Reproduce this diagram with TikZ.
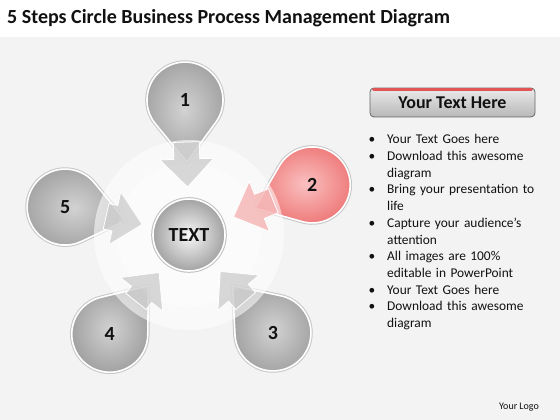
\documentclass[tikz,border=0pt]{standalone}
\usepackage{fontspec}
\setmainfont{Carlito}
\usetikzlibrary{calc}
\definecolor{bg}{HTML}{F3F3F3}
\definecolor{ink}{HTML}{111111}
\definecolor{dropdark}{HTML}{A2A2A2}
\definecolor{droplight}{HTML}{D2D2D2}
\definecolor{reddark}{HTML}{EE7676}
\definecolor{redlight}{HTML}{FAC0C0}
\definecolor{arrowgray}{HTML}{C8C8C8}
\definecolor{arrowred}{HTML}{F5AEAE}
\definecolor{barred}{HTML}{E05555}
\tikzset{
  drop/.style={draw=white, line width=1.6pt, inner color=droplight, outer color=dropdark,
    preaction={draw=black!22, line width=3.6pt}},
  dropred/.style={draw=white, line width=1.6pt, inner color=redlight, outer color=reddark,
    preaction={draw=black!22, line width=3.6pt}},
  ring/.style={fill=white, fill opacity=0.55},
  arrowg/.style={fill=arrowgray, fill opacity=0.7, draw=white, line width=0.8pt},
  arrowr/.style={fill=arrowred, fill opacity=0.75, draw=white, line width=0.8pt},
  num/.style={text=ink, font=\bfseries\fontsize{20}{20}\selectfont},
  hubnode/.style={circle, minimum size=72pt, inner sep=0pt, draw=white, line width=1.6pt,
    inner color=black!3, outer color=black!36, preaction={draw=black!25, line width=3.6pt},
    text=ink, font=\bfseries\fontsize{20}{20}\selectfont},
  headbox/.style={rounded corners=4pt, minimum width=165pt, minimum height=29pt, draw=black!60,
    line width=0.8pt, top color=black!8, bottom color=black!28, text=ink,
    font=\bfseries\fontsize{18}{18}\selectfont},
  bullets/.style={anchor=north west, inner sep=0pt, text width=175pt, text=ink,
    font=\fontsize{13.4}{16.7}\selectfont},
}

\begin{document}
\begin{tikzpicture}[x=1pt, y=1pt]
  \useasboundingbox (0,0) rectangle (560,420);
  \fill[white] (0,0) rectangle (560,420);
  \fill[bg] (0,0) rectangle (560,383);

  \node[anchor=base west, text=ink, inner sep=0pt, font=\bfseries\fontsize{20}{20}\selectfont]
    (title) at (7,396.5) {5 Steps Circle Business Process Management Diagram};

  \coordinate (c) at (189,185);

  % drops, angle and distance measured from the hub
  \foreach \n/\ang/\dist/\sty in {1/91.7/135/drop, 2/22.1/133/dropred, 3/-49.4/129/drop,
                                  4/231.4/127/drop, 5/167.3/127/drop}{
    \begin{scope}[shift={(c)}, rotate=\ang]
      \draw[\sty] ({\dist-62},0) -- ({\dist+38*cos(128)},{38*sin(128)})
        arc[start angle=128, end angle=-128, radius=38] -- cycle;
    \end{scope}
  }

  \fill[ring] (c) circle (95);
  \fill[white, fill opacity=0.35] (c) circle (72);

  \foreach \ang/\dist/\sty in {91.7/135/arrowg, 22.1/133/arrowr, -49.4/129/arrowg,
                               231.4/127/arrowg, 167.3/127/arrowg}{
    \begin{scope}[shift={(c)}, rotate=\ang]
      \draw[\sty] (48,0) -- (76,27) -- (76,13) -- ({\dist-42},13) -- ({\dist-42},-13)
        -- (76,-13) -- (76,-27) -- cycle;
    \end{scope}
  }

  \foreach \n/\ang/\dist in {1/91.7/135, 2/22.1/133, 3/-49.4/129, 4/231.4/127, 5/167.3/127}{
    \node[num] (n\n) at ($(c)+(\ang:\dist)$) {\n};
  }

  \node[hubnode] (hub) at (c) {TEXT};

  % side panel
  \node[headbox] (head) at (452.5,317.5) {Your Text Here};
  \draw[barred, line width=3pt, line cap=round]
    ([xshift=4pt,yshift=-1.5pt]head.north west) -- ([xshift=-4pt,yshift=-1.5pt]head.north east);
  \node[bullets] (list) at (362,293) {%
    \begin{list}{\textbullet}{\setlength{\leftmargin}{25pt}\setlength{\labelsep}{12pt}%
      \setlength{\labelwidth}{8pt}\setlength{\itemsep}{0pt}\setlength{\parsep}{0pt}%
      \setlength{\topsep}{0pt}}
    \item Your Text Goes here
    \item Download this awesome\\ diagram
    \item Bring your presentation to\\ life
    \item Capture your audience’s\\ attention
    \item All images are 100\%\\ editable in PowerPoint
    \item Your Text Goes here
    \item Download this awesome\\ diagram
    \end{list}};

  \node[text=ink, font=\fontsize{10}{10}\selectfont] (logo) at (519,13) {Your Logo};
\end{tikzpicture}
\end{document}
